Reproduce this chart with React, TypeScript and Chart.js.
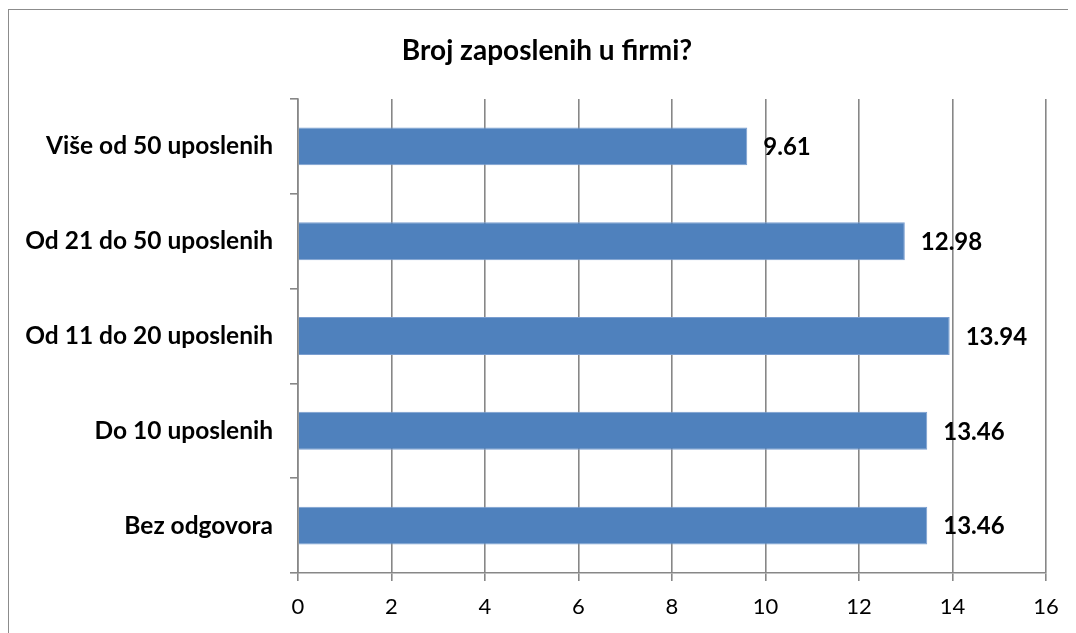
import React, { useEffect, useRef } from "react";
import { Chart, registerables } from "chart.js";

Chart.register(...registerables);

const TITLE = "Broj zaposlenih u firmi?";
const CATEGORIES = [
  "Više od 50 uposlenih",
  "Od 21 do 50 uposlenih",
  "Od 11 do 20 uposlenih",
  "Do 10 uposlenih",
  "Bez odgovora",
];
const VALUES = [9.61, 12.98, 13.94, 13.46, 13.46];
const X_MIN = 0;
const X_MAX = 16;
const X_STEP = 2;

const FONT = "Lato, 'Open Sans', sans-serif";
const GRID = "#878787";

const valueLabels = {
  id: "valueLabels",
  afterDatasetsDraw(chart: any) {
    const ctx = chart.ctx;
    const meta = chart.getDatasetMeta(0);
    ctx.save();
    ctx.font = `bold 24px ${FONT}`;
    ctx.fillStyle = "#000";
    ctx.textAlign = "left";
    ctx.textBaseline = "middle";
    meta.data.forEach((bar: any, i: number) => {
      const v = chart.data.datasets[0].data[i];
      ctx.fillText(Number(v).toFixed(2), bar.x + 16, bar.y + 1);
    });
    ctx.restore();
  },
};

const chartTitle = {
  id: "chartTitle",
  afterDraw(chart: any) {
    const ctx = chart.ctx;
    ctx.save();
    ctx.font = `bold 28px ${FONT}`;
    ctx.fillStyle = "#000";
    ctx.textAlign = "center";
    ctx.textBaseline = "middle";
    ctx.fillText(TITLE, 538, 41);
    ctx.restore();
  },
};

export default function App() {
  const ref = useRef<HTMLCanvasElement | null>(null);
  useEffect(() => {
    if (!ref.current) return;
    const chart = new Chart(ref.current, {
      type: "bar",
      data: {
        labels: CATEGORIES,
        datasets: [
          {
            data: VALUES,
            backgroundColor: "#4F81BD",
            borderColor: "#7A9ED0",
            borderWidth: 1,
            barPercentage: 0.4,
            categoryPercentage: 1,
          },
        ],
      },
      options: {
        indexAxis: "y",
        animation: false,
        responsive: true,
        maintainAspectRatio: false,
        layout: { padding: { left: 0, right: 30, top: 89, bottom: 0 } },
        plugins: {
          legend: { display: false },
          tooltip: { enabled: false },
          title: { display: false },
        },
        scales: {
          x: {
            min: X_MIN,
            max: X_MAX,
            ticks: {
              stepSize: X_STEP,
              color: "#000",
              font: { family: FONT, size: 22 },
              padding: 13,
            },
            grid: {
              color: GRID,
              lineWidth: 1.6,
              tickLength: 8,
              drawOnChartArea: true,
            },
            border: { color: GRID, width: 1.6 },
            afterFit(scale: any) {
              scale.height = 61;
            },
          },
          y: {
            ticks: {
              color: "#000",
              font: { family: FONT, size: 24.5, weight: "bold" },
              padding: 17,
            },
            grid: {
              color: GRID,
              lineWidth: 1.6,
              tickLength: 8,
              drawOnChartArea: false,
              offset: true,
            },
            border: { color: GRID, width: 1.6 },
            afterFit(scale: any) {
              scale.width = 289;
            },
          },
        },
      },
      plugins: [valueLabels, chartTitle],
    });
    return () => chart.destroy();
  }, []);

  return (
    <div
      style={{
        position: "relative",
        width: 1068,
        height: 625,
        marginTop: 1,
        borderTop: "1.5px solid #8c8c8c",
        borderLeft: "1.5px solid #8c8c8c",
        boxSizing: "border-box",
        overflow: "hidden",
      }}
    >
      <canvas ref={ref} />
    </div>
  );
}
